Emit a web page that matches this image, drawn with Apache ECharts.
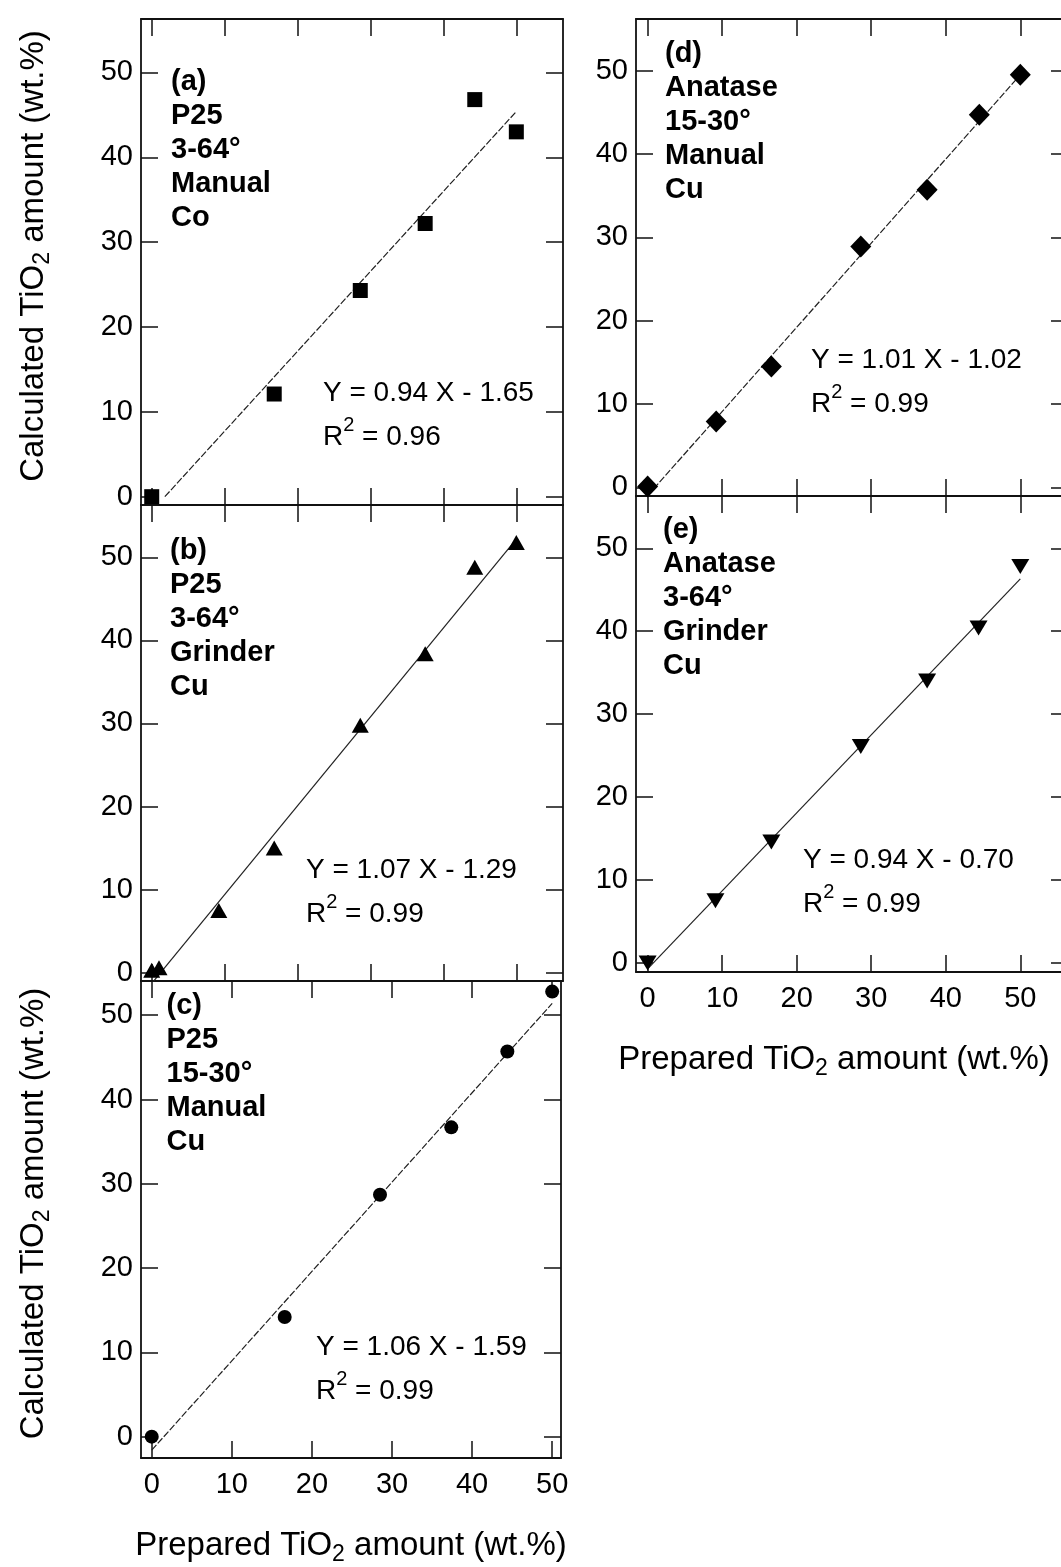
<!DOCTYPE html>
<html><head><meta charset="utf-8">
<script src="https://cdn.jsdelivr.net/npm/echarts@6/dist/echarts.min.js"></script>
<style>html,body{margin:0;padding:0;background:#fff}#c{width:1061px;height:1567px}</style>
</head><body><div id="c"></div>
<script>
// ---- data ----
const tickValues = [0, 10, 20, 30, 40, 50];

const prepA = [0, 16.8, 28.6, 37.5, 44.3, 50];
const calcA = [0.0, 12.1, 24.3, 32.2, 46.8, 43.0];
const prepB = [0, 1.0, 9.2, 16.8, 28.6, 37.5, 44.3, 50];
const calcB = [0.3, 0.6, 7.5, 15.0, 29.8, 38.4, 48.8, 51.8];
const prepC = [0, 16.6, 28.5, 37.4, 44.4, 50];
const calcC = [0.0, 14.2, 28.7, 36.7, 45.7, 52.8];
const prepD = [0, 9.2, 16.6, 28.6, 37.5, 44.5, 50];
const calcD = [0.1, 7.9, 14.5, 28.9, 35.7, 44.7, 49.5];
const prepE = [0, 9.1, 16.6, 28.6, 37.5, 44.4, 50];
const calcE = [0.0, 7.5, 14.6, 26.1, 34.0, 40.4, 47.8];

const fitA = [[1.8, 0], [50, 45.4]];
const fitB = [[0, -1.3], [50, 52.2]];
const fitC = [[0, -1.6], [50, 51.4]];
const fitD = [[0, -1.0], [50, 49.5]];
const fitE = [[0, -0.7], [50, 46.3]];

const labelA = ['(a)', 'P25', '3-64°', 'Manual', 'Co'];
const labelB = ['(b)', 'P25', '3-64°', 'Grinder', 'Cu'];
const labelC = ['(c)', 'P25', '15-30°', 'Manual', 'Cu'];
const labelD = ['(d)', 'Anatase', '15-30°', 'Manual', 'Cu'];
const labelE = ['(e)', 'Anatase', '3-64°', 'Grinder', 'Cu'];

const eqA = ['Y = 0.94 X - 1.65', ' = 0.96'];
const eqB = ['Y = 1.07 X - 1.29', ' = 0.99'];
const eqC = ['Y = 1.06 X - 1.59', ' = 0.99'];
const eqD = ['Y = 1.01 X - 1.02', ' = 0.99'];
const eqE = ['Y = 0.94 X - 0.70', ' = 0.99'];

const yTitle = ['Calculated TiO', '2', ' amount (wt.%)'];
const xTitle = ['Prepared TiO', '2', ' amount (wt.%)'];

// ---- layout / styles ----
const FONT = '"Liberation Sans", Arial, Helvetica, sans-serif';
const panels = [
  {grid: {left: 141, top: 19, width: 422, height: 486}, xr: [-1.47, 56.4], yr: [-0.98, 56.3],
   xs: prepA, ys: calcA, fit: fitA, symbol: 'rect', size: [15, 15], rot: 0, dash: [7, 2],
   lab: labelA, lx: 171, ly: 65, eq: eqA, ex: 323, ey: 371, yName: true, xLab: false, xName: false},
  {grid: {left: 141, top: 505, width: 422, height: 476}, xr: [-1.47, 56.4], yr: [-1.0, 56.3],
   xs: prepB, ys: calcB, fit: fitB, symbol: 'triangle', size: [17, 15], rot: 0, dash: 'solid',
   lab: labelB, lx: 170, ly: 533.6, eq: eqB, ex: 306, ey: 848, yName: false, xLab: false, xName: false},
  {grid: {left: 141, top: 981, width: 420, height: 477}, xr: [-1.34, 51.1], yr: [-2.53, 54.06],
   xs: prepC, ys: calcC, fit: fitC, symbol: 'circle', size: 14, rot: 0, dash: [7, 2],
   lab: labelC, lx: 166.5, ly: 988.6, eq: eqC, ex: 316, ey: 1325, yName: true, xLab: true, xName: true, namePad: [0, 0, 0, 0]},
  {grid: {left: 636, top: 19, width: 432, height: 477}, xr: [-1.56, 56.4], yr: [-1.04, 56.2],
   xs: prepD, ys: calcD, fit: fitD, symbol: 'diamond', size: [21, 22], rot: 0, dash: [7, 2],
   lab: labelD, lx: 665, ly: 37.4, eq: eqD, ex: 811, ey: 338, yName: false, xLab: false, xName: false},
  {grid: {left: 636, top: 496, width: 432, height: 476}, xr: [-1.56, 56.4], yr: [-1.08, 56.3],
   xs: prepE, ys: calcE, fit: fitE, symbol: 'triangle', size: [18, 15], rot: 180, dash: 'solid',
   lab: labelE, lx: 663, ly: 513, eq: eqE, ex: 803, ey: 838, yName: false, xLab: true, xName: true, namePad: [0, 36, 0, 0]}
];

const titleRich = {
  t: {fontSize: 33, fontFamily: FONT, color: '#000', lineHeight: 40},
  s: {fontSize: 23, fontFamily: FONT, color: '#000', lineHeight: 2, verticalAlign: 'bottom'}
};
const lineCol = '#111';
function tickCfg() { return {show: true, inside: true, length: 17, lineStyle: {color: lineCol, width: 1.5}, customValues: tickValues}; }
function lineCfg() { return {show: true, onZero: false, lineStyle: {color: lineCol, width: 1.8}}; }

const grids = [], xAxes = [], yAxes = [], series = [], graphics = [];
panels.forEach((p, i) => {
  grids.push(Object.assign({outerBoundsMode: 'none', containLabel: false}, p.grid));
  xAxes.push({
    type: 'value', gridIndex: i, position: 'bottom', min: p.xr[0], max: p.xr[1],
    axisLine: lineCfg(), axisTick: tickCfg(), splitLine: {show: false},
    axisLabel: {show: p.xLab, customValues: tickValues, fontSize: 29, fontFamily: FONT, color: '#000', margin: 12},
    name: p.xName ? `{t|${xTitle[0]}}{s|${xTitle[1]}}{t|${xTitle[2]}}` : '',
    nameLocation: 'middle', nameGap: 68, nameMoveOverlap: false,
    nameTextStyle: {rich: titleRich, padding: p.namePad || 0}
  });
  xAxes.push({
    type: 'value', gridIndex: i, position: 'top', min: p.xr[0], max: p.xr[1],
    axisLine: lineCfg(), axisTick: tickCfg(), splitLine: {show: false}, axisLabel: {show: false}
  });
  yAxes.push({
    type: 'value', gridIndex: i, position: 'left', min: p.yr[0], max: p.yr[1],
    axisLine: lineCfg(), axisTick: tickCfg(), splitLine: {show: false},
    axisLabel: {show: true, customValues: tickValues, fontSize: 29, fontFamily: FONT, color: '#000', margin: 8},
    name: p.yName ? `{t|${yTitle[0]}}{s|${yTitle[1]}}{t|${yTitle[2]}}` : '',
    nameLocation: 'middle', nameGap: 87, nameRotate: 90, nameMoveOverlap: false,
    nameTextStyle: {rich: titleRich, padding: [0, 0, 0, 12]}
  });
  yAxes.push({
    type: 'value', gridIndex: i, position: 'right', min: p.yr[0], max: p.yr[1],
    axisLine: lineCfg(), axisTick: tickCfg(), splitLine: {show: false}, axisLabel: {show: false}
  });
  series.push({
    type: 'line', xAxisIndex: 2 * i, yAxisIndex: 2 * i, data: p.fit, symbol: 'none', clip: true,
    lineStyle: {color: '#222', width: 1.2, type: p.dash}, z: 2, silent: true
  });
  series.push({
    type: 'scatter', xAxisIndex: 2 * i, yAxisIndex: 2 * i,
    data: p.xs.map((x, k) => [x, p.ys[k]]),
    symbol: p.symbol, symbolSize: p.size, symbolRotate: p.rot,
    itemStyle: {color: '#000', opacity: 1}, z: 3, clip: false
  });
  graphics.push({
    type: 'text', x: p.lx, y: p.ly, z: 10,
    style: {text: p.lab.join('\n'), font: `bold 29px ${FONT}`, fontSize: 29, fontWeight: 'bold', fontFamily: FONT,
            fill: '#000', lineHeight: 34, verticalAlign: 'top', textVerticalAlign: 'top', align: 'left', textAlign: 'left'}
  });
  graphics.push({
    type: 'text', x: p.ex, y: p.ey, z: 10,
    style: {
      text: `{t|${p.eq[0]}}\n{t|R}{p|2}{t|${p.eq[1]}}`,
      fill: '#000', verticalAlign: 'top', textVerticalAlign: 'top', align: 'left', textAlign: 'left',
      rich: {
        t: {fontSize: 28, fontFamily: FONT, fill: '#000', color: '#000', lineHeight: 44},
        p: {fontSize: 20, fontFamily: FONT, fill: '#000', color: '#000', lineHeight: 16, verticalAlign: 'top'}
      }
    }
  });
});

const chart = echarts.init(document.getElementById('c'), null, {renderer: 'canvas'});
chart.setOption({
  animation: false,
  backgroundColor: '#fff',
  grid: grids, xAxis: xAxes, yAxis: yAxes, series: series, graphic: graphics
});
</script></body></html>
